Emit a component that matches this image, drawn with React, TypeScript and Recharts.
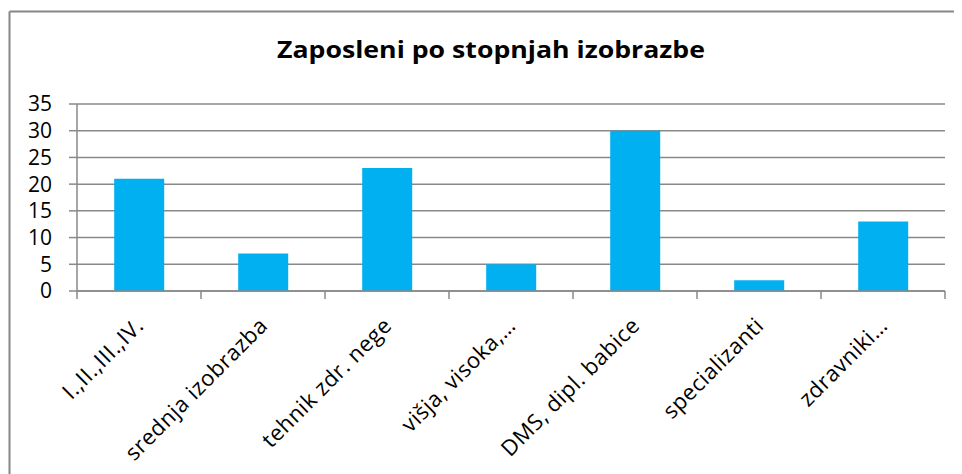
import React from "react";
import { BarChart, Bar, XAxis, YAxis, CartesianGrid } from "recharts";

const categories = [
  "I.,II.,III.,IV.",
  "srednja izobrazba",
  "tehnik zdr. nege",
  "višja, visoka,…",
  "DMS, dipl. babice",
  "specializanti",
  "zdravniki…",
];
const values = [21, 7, 23, 5, 30, 2, 13];
const yTicks = [0, 5, 10, 15, 20, 25, 30, 35];
const title = "Zaposleni po stopnjah izobrazbe";

const data = categories.map((c, i) => ({ name: c, value: values[i] }));

const W = 954;
const H = 466;
const MARGIN = { top: 96, right: 17, bottom: 0, left: 0 };
const Y_W = 69;
const PLOT_W = W - MARGIN.left - MARGIN.right - Y_W;
const BAND = PLOT_W / categories.length;
const GRAY = "#898989";
const FONT = "'Open Sans', Lato, sans-serif";

const XTick = (props: any) => {
  const { x, y, payload, index } = props;
  const tx = x + 6;
  const ty = y + 36;
  return (
    <g>
      {index === 0 && (
        <line x1={x - BAND / 2} y1={y} x2={x - BAND / 2} y2={y + 8} stroke={GRAY} strokeWidth={1.5} />
      )}
      <line x1={x + BAND / 2} y1={y} x2={x + BAND / 2} y2={y + 8} stroke={GRAY} strokeWidth={1.5} />
      <text
        x={tx}
        y={ty}
        transform={`rotate(-45, ${tx}, ${ty})`}
        textAnchor="end"
        fontSize={22}
        letterSpacing={0.5}
        fontFamily={FONT}
        fill="#000"
      >
        {payload.value}
      </text>
    </g>
  );
};

export default function App() {
  return (
    <div style={{ position: "relative", width: W, height: H }}>
      <BarChart width={W} height={H} data={data} margin={MARGIN} barCategoryGap="30%">
        <CartesianGrid vertical={false} stroke={GRAY} strokeWidth={1.5} />
        <XAxis
          dataKey="name"
          interval={0}
          height={H - 283 - MARGIN.bottom}
          tickSize={0}
          tickMargin={0}
          tickLine={false}
          axisLine={{ stroke: GRAY, strokeWidth: 1.5 }}
          tick={<XTick />}
        />
        <YAxis
          width={Y_W}
          domain={[0, 35]}
          ticks={yTicks}
          interval={0}
          tickSize={8}
          tickMargin={17}
          tickLine={{ stroke: GRAY, strokeWidth: 1.5 }}
          axisLine={{ stroke: GRAY, strokeWidth: 1.5 }}
          tick={{ fill: "#000", fontSize: 21, fontFamily: FONT }}
        />
        <Bar dataKey="value" fill="#00B0F0" isAnimationActive={false} />
      </BarChart>
      <svg
        width={W}
        height={H}
        style={{ position: "absolute", left: 0, top: 0, pointerEvents: "none" }}
      >
        <line x1={1.5} y1={3.5} x2={W} y2={3.5} stroke="#868686" strokeWidth={2} />
        <line x1={1.5} y1={3.5} x2={1.5} y2={H} stroke="#868686" strokeWidth={2} />
        <text
          x={483}
          y={50}
          textAnchor="middle"
          fontSize={23}
          fontWeight="bold"
          fontFamily={FONT}
          textLength={428}
          lengthAdjust="spacingAndGlyphs"
          fill="#000"
        >
          {title}
        </text>
      </svg>
    </div>
  );
}
